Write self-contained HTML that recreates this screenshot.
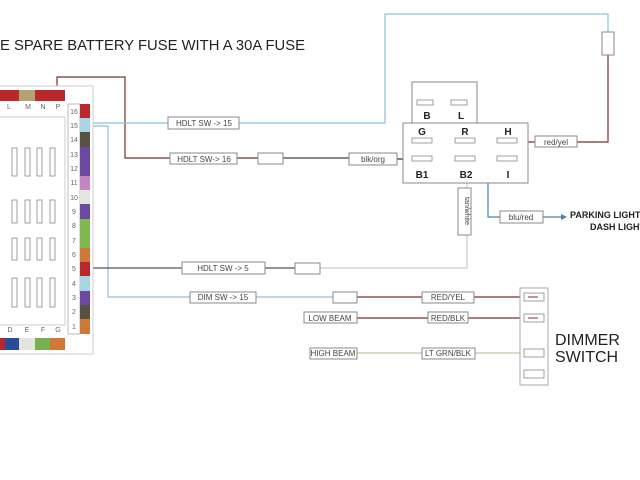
<!DOCTYPE html><html><head><style>body{margin:0;background:#fff}svg{display:block}text{font-family:"Liberation Sans",sans-serif}</style></head><body>
<svg width="640" height="480" viewBox="0 0 640 480" xmlns="http://www.w3.org/2000/svg">
<rect width="640" height="480" fill="#fff"/>
<text x="0" y="50" font-size="14.5" fill="#222" textLength="305" lengthAdjust="spacingAndGlyphs">E SPARE BATTERY FUSE WITH A 30A FUSE</text>
<g fill="none" stroke-width="1.2">
<polyline points="57,108 57,77 125,77 125,158 170,158" stroke="#7a3030"/>
<line x1="237" y1="158" x2="258" y2="158" stroke="#7a3030"/>
<line x1="283" y1="158" x2="349" y2="158" stroke="#444"/>
<line x1="397" y1="159" x2="420" y2="159" stroke="#333"/>
<polyline points="86,123 168,123" stroke="#8cc0d8"/>
<polyline points="239,123 385,123 385,14 608,14 608,32" stroke="#8cc0d8"/>
<polyline points="608,55 608,142 577,142" stroke="#7a3030"/>
<line x1="535" y1="142" x2="505" y2="142" stroke="#7a3030"/>
<polyline points="90,126 108,126 108,297 190,297" stroke="#8cc0d8"/>
<line x1="256" y1="297" x2="333" y2="297" stroke="#8cc0d8"/>
<line x1="357" y1="297" x2="422" y2="297" stroke="#7a3030"/>
<line x1="474" y1="297" x2="530" y2="297" stroke="#7a3030"/>
<line x1="357" y1="318" x2="428" y2="318" stroke="#7a3030"/>
<line x1="468" y1="318" x2="530" y2="318" stroke="#7a3030"/>
<line x1="357" y1="353" x2="422" y2="353" stroke="#c8c4a0"/>
<line x1="475" y1="353" x2="530" y2="353" stroke="#c8c4a0"/>
<line x1="88" y1="268" x2="182" y2="268" stroke="#555"/>
<line x1="265" y1="268" x2="295" y2="268" stroke="#555"/>
<polyline points="320,268 467,268 467,235" stroke="#ccc"/>
<line x1="467" y1="188" x2="467" y2="160" stroke="#ccc"/>
<polyline points="466,141 488,141 488,217 500,217" stroke="#4a80a8"/>
<line x1="543" y1="217" x2="563" y2="217" stroke="#4a80a8"/>
</g>
<polygon points="567,217 561,214 561,220" fill="#4a80a8"/>
<g fill="#fff" stroke="#888" stroke-width="1">
<rect x="-5" y="86" width="98" height="268" stroke="#ccc"/>
<rect x="-5" y="117" width="70" height="208" stroke="#ccc"/>
<rect x="68" y="104" width="12" height="230" stroke="#bbb"/>
<rect x="602" y="32" width="12" height="23"/>
<rect x="168" y="117" width="71" height="12"/>
<rect x="170" y="153" width="67" height="11"/>
<rect x="258" y="153" width="25" height="11"/>
<rect x="349" y="153" width="48" height="12"/>
<rect x="535" y="136" width="42" height="11"/>
<rect x="182" y="262" width="83" height="12"/>
<rect x="295" y="263" width="25" height="11"/>
<rect x="190" y="292" width="66" height="11"/>
<rect x="333" y="292" width="24" height="11"/>
<rect x="422" y="292" width="52" height="11"/>
<rect x="304" y="312" width="53" height="11"/>
<rect x="428" y="312" width="40" height="11"/>
<rect x="310" y="348" width="47" height="11"/>
<rect x="422" y="348" width="53" height="11"/>
<rect x="458" y="188" width="13" height="47"/>
<rect x="500" y="211" width="43" height="12"/>
<rect x="412" y="82" width="65" height="42"/>
<rect x="403" y="123" width="125" height="60"/>
<rect x="520" y="288" width="28" height="97" stroke="#aaa"/>
</g>
<g fill="#fff" stroke="#888" stroke-width="0.8">
<rect x="417" y="100" width="16" height="5"/><rect x="451" y="100" width="16" height="5"/>
<rect x="412" y="138" width="20" height="5"/><rect x="455" y="138" width="20" height="5"/><rect x="497" y="138" width="20" height="5"/>
<rect x="412" y="156" width="20" height="5"/><rect x="455" y="156" width="20" height="5"/><rect x="497" y="156" width="20" height="5"/>
<rect x="524" y="293" width="20" height="8"/><rect x="524" y="314" width="20" height="8"/><rect x="524" y="349" width="20" height="8"/><rect x="524" y="370" width="20" height="8"/>
<rect x="12" y="148" width="5" height="28"/><rect x="25" y="148" width="5" height="28"/><rect x="37" y="148" width="5" height="28"/><rect x="50" y="148" width="5" height="28"/>
<rect x="12" y="200" width="5" height="23"/><rect x="25" y="200" width="5" height="23"/><rect x="37" y="200" width="5" height="23"/><rect x="50" y="200" width="5" height="23"/>
<rect x="12" y="238" width="5" height="22"/><rect x="25" y="238" width="5" height="22"/><rect x="37" y="238" width="5" height="22"/><rect x="50" y="238" width="5" height="22"/>
<rect x="12" y="278" width="5" height="29"/><rect x="25" y="278" width="5" height="29"/><rect x="37" y="278" width="5" height="29"/><rect x="50" y="278" width="5" height="29"/>
</g>
<line x1="528" y1="297" x2="538" y2="297" stroke="#7a3030"/>
<line x1="528" y1="318" x2="538" y2="318" stroke="#7a3030"/>
<rect x="0" y="90" width="19" height="11" fill="#b8282c"/><rect x="19" y="90" width="16" height="11" fill="#b0a470"/><rect x="35" y="90" width="30" height="11" fill="#b8282c"/>
<rect x="0" y="338" width="5" height="12" fill="#b8282c"/><rect x="5" y="338" width="14" height="12" fill="#2a4a9a"/><rect x="19" y="338" width="16" height="12" fill="#e4e4e0"/><rect x="35" y="338" width="15" height="12" fill="#78b050"/><rect x="50" y="338" width="15" height="12" fill="#d07838"/>
<g>
<rect x="80" y="104" width="10" height="15" fill="#b8282c"/>
<rect x="80" y="118" width="10" height="15" fill="#a8d4e4"/>
<rect x="80" y="132" width="10" height="15" fill="#585040"/>
<rect x="80" y="147" width="10" height="29" fill="#6c48a0"/>
<rect x="80" y="176" width="10" height="15" fill="#c484c0"/>
<rect x="80" y="190" width="10" height="15" fill="#e4e4e0"/>
<rect x="80" y="204" width="10" height="15" fill="#6c48a0"/>
<rect x="80" y="219" width="10" height="29" fill="#80b850"/>
<rect x="80" y="248" width="10" height="15" fill="#d07838"/>
<rect x="80" y="262" width="10" height="15" fill="#b8282c"/>
<rect x="80" y="276" width="10" height="15" fill="#a8d4e4"/>
<rect x="80" y="291" width="10" height="15" fill="#6c48a0"/>
<rect x="80" y="305" width="10" height="15" fill="#585040"/>
<rect x="80" y="319" width="10" height="15" fill="#d07838"/>
</g>
<g font-size="7" fill="#666" text-anchor="middle">
<text x="9" y="109">L</text><text x="28" y="109">M</text><text x="43" y="109">N</text><text x="58" y="109">P</text>
<text x="10" y="332">D</text><text x="27" y="332">E</text><text x="43" y="332">F</text><text x="58" y="332">G</text>
<text x="74" y="114">16</text><text x="74" y="128">15</text><text x="74" y="142">14</text><text x="74" y="157">13</text><text x="74" y="171">12</text><text x="74" y="185">11</text><text x="74" y="200">10</text><text x="74" y="214">9</text><text x="74" y="228">8</text><text x="74" y="243">7</text><text x="74" y="257">6</text><text x="74" y="271">5</text><text x="74" y="286">4</text><text x="74" y="300">3</text><text x="74" y="314">2</text><text x="74" y="329">1</text>
</g>
<g font-size="8" fill="#444" text-anchor="middle">
<text x="204" y="126">HDLT SW -&gt; 15</text>
<text x="204" y="162">HDLT SW-&gt; 16</text>
<text x="373" y="162">blk/org</text>
<text x="556" y="145">red/yel</text>
<text x="223" y="271">HDLT SW -&gt; 5</text>
<text x="223" y="300">DIM SW -&gt; 15</text>
<text x="448" y="300">RED/YEL</text>
<text x="330" y="321">LOW BEAM</text>
<text x="448" y="321">RED/BLK</text>
<text x="333" y="356">HIGH BEAM</text>
<text x="448" y="356">LT GRN/BLK</text>
<text x="521" y="220">blu/red</text>
<text transform="translate(465,211) rotate(90)" font-size="7">tan/white</text>
</g>
<g font-size="10" font-weight="bold" fill="#222" text-anchor="middle">
<text x="427" y="119">B</text><text x="461" y="119">L</text>
<text x="422" y="135">G</text><text x="465" y="135">R</text><text x="508" y="135">H</text>
<text x="422" y="178">B1</text><text x="466" y="178">B2</text><text x="508" y="178">I</text>
</g>
<g font-size="9" font-weight="bold" fill="#222">
<text x="570" y="218">PARKING LIGHT</text><text x="590" y="230">DASH LIGHT</text>
</g>
<g font-size="16" fill="#222"><text x="555" y="345">DIMMER</text><text x="555" y="362">SWITCH</text></g>
</svg>
</body></html>
